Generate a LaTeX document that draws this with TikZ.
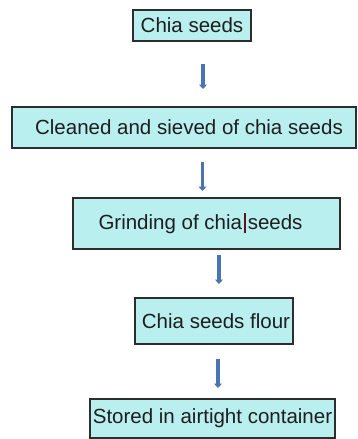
\documentclass[tikz,border=0pt]{standalone}
\usepackage{fontspec}
\setmainfont{Liberation Sans}
\usetikzlibrary{
  arrows.meta,
  positioning
}
\definecolor{stepfill}{RGB}{186, 239, 239}
\definecolor{stepborder}{RGB}{45, 45, 45}
\definecolor{steptext}{RGB}{30, 30, 30}
\definecolor{arrowblue}{RGB}{74, 116, 178}
\definecolor{cursorred}{RGB}{90, 20, 30}
\tikzset{
steptext/.style={
  align=center,
  font=\fontsize{20.5}{24}\selectfont,
  text=steptext
},
stepbox/.style={
  draw=stepborder,
  line width=1.1pt,
  fill=stepfill,
  inner sep=0pt,
  steptext
},
flowarrow/.style={
  -{Triangle[length=4.5pt,width=8pt]},
  line width=3.8pt,
  draw=arrowblue
}
}

\begin{document}
\begin{tikzpicture}[x=1pt, y=1pt]
  \useasboundingbox (0,0) rectangle (357,-439);

  % Steps
  \node[stepbox, minimum width=118pt, minimum height=31pt] (seeds) at (192,-25.5) {Chia seeds};
  \node[stepbox, minimum width=344pt, minimum height=41pt] (clean) at (184,-127.5) {\hspace{10pt}Cleaned and sieved of chia seeds};
  \node[stepbox, minimum width=267pt, minimum height=51pt] (grind) at (206.5,-223.5)
    {Grinding of chia\makebox[5.7pt]{\color{cursorred}\rule[-4pt]{1.8pt}{20pt}}seeds\hspace{12pt}};
  \node[stepbox, minimum width=158pt, minimum height=46pt] (flour) at (214,-321) {\hspace{4pt}Chia seeds flour};
  \node[stepbox, minimum width=245pt, minimum height=39pt] (store) at (212.5,-418.5) {Stored in airtight container};

  % Arrow ends
  \coordinate (a1s) at (203,-64);  \coordinate (a1e) at (203,-89);
  \coordinate (a2s) at (202.5,-162); \coordinate (a2e) at (202.5,-191);
  \coordinate (a3s) at (219,-255); \coordinate (a3e) at (219,-284);
  \coordinate (a4s) at (218,-359); \coordinate (a4e) at (218,-388);

  \foreach \a in {a1,a2,a3,a4} {
    \draw[flowarrow] (\a s) -- (\a e);
  }
\end{tikzpicture}
\end{document}
